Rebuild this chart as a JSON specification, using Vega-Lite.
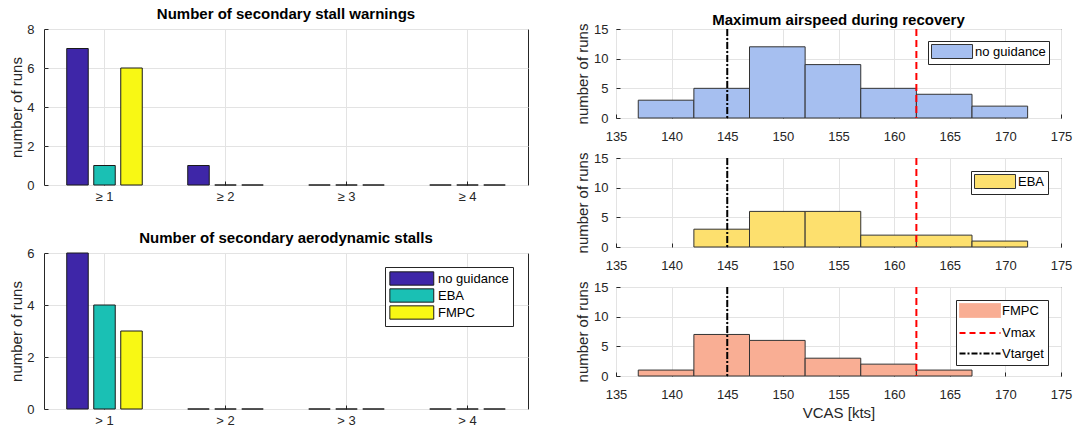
{
  "$schema": "https://vega.github.io/schema/vega-lite/v6.json",
  "background": "white",
  "padding": {"left": 9, "top": 6, "right": 4, "bottom": 2},
  "datasets": {
    "warnings": [
      {"level": "≥ 1", "method": "no guidance", "runs": 7},
      {"level": "≥ 1", "method": "EBA", "runs": 1},
      {"level": "≥ 1", "method": "FMPC", "runs": 6},
      {"level": "≥ 2", "method": "no guidance", "runs": 1},
      {"level": "≥ 2", "method": "EBA", "runs": 0},
      {"level": "≥ 2", "method": "FMPC", "runs": 0},
      {"level": "≥ 3", "method": "no guidance", "runs": 0},
      {"level": "≥ 3", "method": "EBA", "runs": 0},
      {"level": "≥ 3", "method": "FMPC", "runs": 0},
      {"level": "≥ 4", "method": "no guidance", "runs": 0},
      {"level": "≥ 4", "method": "EBA", "runs": 0},
      {"level": "≥ 4", "method": "FMPC", "runs": 0}
    ],
    "stalls": [
      {"level": "> 1", "method": "no guidance", "runs": 6},
      {"level": "> 1", "method": "EBA", "runs": 4},
      {"level": "> 1", "method": "FMPC", "runs": 3},
      {"level": "> 2", "method": "no guidance", "runs": 0},
      {"level": "> 2", "method": "EBA", "runs": 0},
      {"level": "> 2", "method": "FMPC", "runs": 0},
      {"level": "> 3", "method": "no guidance", "runs": 0},
      {"level": "> 3", "method": "EBA", "runs": 0},
      {"level": "> 3", "method": "FMPC", "runs": 0},
      {"level": "> 4", "method": "no guidance", "runs": 0},
      {"level": "> 4", "method": "EBA", "runs": 0},
      {"level": "> 4", "method": "FMPC", "runs": 0}
    ],
    "airspeed": [
      {"method": "no guidance", "lo": 137, "hi": 142, "count": 3},
      {"method": "no guidance", "lo": 142, "hi": 147, "count": 5},
      {"method": "no guidance", "lo": 147, "hi": 152, "count": 12},
      {"method": "no guidance", "lo": 152, "hi": 157, "count": 9},
      {"method": "no guidance", "lo": 157, "hi": 162, "count": 5},
      {"method": "no guidance", "lo": 162, "hi": 167, "count": 4},
      {"method": "no guidance", "lo": 167, "hi": 172, "count": 2},
      {"method": "EBA", "lo": 142, "hi": 147, "count": 3},
      {"method": "EBA", "lo": 147, "hi": 152, "count": 6},
      {"method": "EBA", "lo": 152, "hi": 157, "count": 6},
      {"method": "EBA", "lo": 157, "hi": 162, "count": 2},
      {"method": "EBA", "lo": 162, "hi": 167, "count": 2},
      {"method": "EBA", "lo": 167, "hi": 172, "count": 1},
      {"method": "FMPC", "lo": 137, "hi": 142, "count": 1},
      {"method": "FMPC", "lo": 142, "hi": 147, "count": 7},
      {"method": "FMPC", "lo": 147, "hi": 152, "count": 6},
      {"method": "FMPC", "lo": 152, "hi": 157, "count": 3},
      {"method": "FMPC", "lo": 157, "hi": 162, "count": 2},
      {"method": "FMPC", "lo": 162, "hi": 167, "count": 1}
    ],
    "limits": [
      {"line": "Vmax", "v": 162},
      {"line": "Vtarget", "v": 145}
    ]
  },
  "hconcat": [
    {
      "spacing": 26,
      "resolve": {"scale": {"color": "independent", "x": "independent", "y": "independent"}, "legend": {"color": "independent"}, "axis": {"x": "independent", "y": "independent"}},
      "vconcat": [
        {
          "width": 484, "height": 156,
          "title": {"text": "Number of secondary stall warnings"},
          "data": {"name": "warnings"},
          "mark": {"type": "bar", "stroke": "#1a1a1a", "strokeWidth": 1},
          "encoding": {
            "x": {"field": "level", "type": "nominal", "sort": null, "scale": {"paddingInner": 0, "paddingOuter": 0},
                  "axis": {"title": null, "labelAngle": 0, "grid": true, "bandPosition": 0.5, "labelPadding": 9}},
            "xOffset": {"field": "method", "type": "nominal", "sort": ["no guidance", "EBA", "FMPC"], "scale": {"paddingInner": 0.204, "paddingOuter": 0.842}},
            "y": {"field": "runs", "type": "quantitative", "scale": {"domain": [0, 8], "nice": false},
                  "axis": {"values": [0, 2, 4, 6, 8], "title": "number of runs", "labelPadding": 14, "titlePadding": 2}},
            "color": {"field": "method", "type": "nominal", "scale": {"domain": ["no guidance", "EBA", "FMPC"], "range": ["#3e26a8", "#1ac0b4", "#f8f814"]}, "legend": null}
          }
        },
        {
          "width": 484, "height": 156,
          "title": {"text": "Number of secondary aerodynamic stalls"},
          "data": {"name": "stalls"},
          "mark": {"type": "bar", "stroke": "#1a1a1a", "strokeWidth": 1},
          "encoding": {
            "x": {"field": "level", "type": "nominal", "sort": null, "scale": {"paddingInner": 0, "paddingOuter": 0},
                  "axis": {"title": null, "labelAngle": 0, "grid": true, "bandPosition": 0.5, "labelPadding": 9}},
            "xOffset": {"field": "method", "type": "nominal", "sort": ["no guidance", "EBA", "FMPC"], "scale": {"paddingInner": 0.204, "paddingOuter": 0.842}},
            "y": {"field": "runs", "type": "quantitative", "scale": {"domain": [0, 6], "nice": false},
                  "axis": {"values": [0, 2, 4, 6], "title": "number of runs", "labelPadding": 14, "titlePadding": 2}},
            "color": {"field": "method", "type": "nominal", "scale": {"domain": ["no guidance", "EBA", "FMPC"], "range": ["#3e26a8", "#1ac0b4", "#f8f814"]},
                      "legend": {"title": null, "orient": "none", "legendX": 341, "legendY": 14, "padding": 4, "rowPadding": -2.5,
                                 "symbolType": "M-1,-1H5.6V1H-1Z", "symbolSize": 177, "labelOffset": 34,
                                 "symbolStrokeColor": "#1a1a1a", "symbolStrokeWidth": 1, "symbolOpacity": 1}}
          }
        }
      ]
    },
    {
      "spacing": 7,
      "resolve": {"scale": {"color": "independent", "stroke": "independent", "x": "independent", "y": "independent"}, "legend": {"color": "independent"}, "axis": {"x": "independent", "y": "independent"}},
      "vconcat": [
        {
          "width": 445, "height": 89,
          "title": {"text": ["", "Maximum airspeed during recovery"], "lineHeight": 6, "offset": -5},
          "layer": [
            {
              "data": {"name": "airspeed"},
              "transform": [{"filter": "datum.method === 'no guidance'"}],
              "mark": {"type": "rect", "stroke": "#333333", "strokeWidth": 1},
              "encoding": {
                "x": {"field": "lo", "type": "quantitative", "scale": {"domain": [135, 175], "nice": false, "zero": false},
                      "axis": {"values": [135, 140, 145, 150, 155, 160, 165, 170, 175], "title": null, "labelPadding": 16}},
                "x2": {"field": "hi"},
                "y": {"field": "count", "type": "quantitative", "scale": {"domain": [0, 15], "nice": false},
                      "axis": {"values": [0, 5, 10, 15], "title": "number of runs", "labelPadding": 12, "titlePadding": 3}},
                "y2": {"datum": 0},
                "color": {"field": "method", "type": "nominal", "scale": {"domain": ["no guidance"], "range": ["#a6bff0"]},
                          "legend": {"title": null, "orient": "top-right", "offset": 12, "padding": 3, "symbolType": "M-1,-1H4.86V1H-1Z", "symbolSize": 196, "labelOffset": 29,
                                     "symbolStrokeColor": "#333333", "symbolStrokeWidth": 1, "symbolOpacity": 1}}
              }
            },
            {
              "data": {"name": "limits"},
              "mark": {"type": "rule", "strokeWidth": 2},
              "encoding": {
                "x": {"field": "v", "type": "quantitative"},
                "stroke": {"field": "line", "type": "nominal", "scale": {"domain": ["Vmax", "Vtarget"], "range": ["#ff0000", "#000000"]}, "legend": null},
                "strokeDash": {"field": "line", "type": "nominal", "scale": {"domain": ["Vmax", "Vtarget"], "range": [[7, 4], [7, 2, 2, 2]]}, "legend": null}
              }
            }
          ]
        },
        {
          "width": 445, "height": 89,
          "layer": [
            {
              "data": {"name": "airspeed"},
              "transform": [{"filter": "datum.method === 'EBA'"}],
              "mark": {"type": "rect", "stroke": "#333333", "strokeWidth": 1},
              "encoding": {
                "x": {"field": "lo", "type": "quantitative", "scale": {"domain": [135, 175], "nice": false, "zero": false},
                      "axis": {"values": [135, 140, 145, 150, 155, 160, 165, 170, 175], "title": null, "labelPadding": 16}},
                "x2": {"field": "hi"},
                "y": {"field": "count", "type": "quantitative", "scale": {"domain": [0, 15], "nice": false},
                      "axis": {"values": [0, 5, 10, 15], "title": "number of runs", "labelPadding": 12, "titlePadding": 3}},
                "y2": {"datum": 0},
                "color": {"field": "method", "type": "nominal", "scale": {"domain": ["EBA"], "range": ["#fde06e"]},
                          "legend": {"title": null, "orient": "top-right", "offset": 13, "padding": 3, "symbolType": "M-1,-1H4.86V1H-1Z", "symbolSize": 196, "labelOffset": 29,
                                     "symbolStrokeColor": "#333333", "symbolStrokeWidth": 1, "symbolOpacity": 1}}
              }
            },
            {
              "data": {"name": "limits"},
              "mark": {"type": "rule", "strokeWidth": 2},
              "encoding": {
                "x": {"field": "v", "type": "quantitative"},
                "stroke": {"field": "line", "type": "nominal", "scale": {"domain": ["Vmax", "Vtarget"], "range": ["#ff0000", "#000000"]}, "legend": null},
                "strokeDash": {"field": "line", "type": "nominal", "scale": {"domain": ["Vmax", "Vtarget"], "range": [[7, 4], [7, 2, 2, 2]]}, "legend": null}
              }
            }
          ]
        },
        {
          "width": 445, "height": 89,
          "layer": [
            {
              "data": {"name": "airspeed"},
              "transform": [{"filter": "datum.method === 'FMPC'"}],
              "mark": {"type": "rect", "stroke": "#333333", "strokeWidth": 1},
              "encoding": {
                "x": {"field": "lo", "type": "quantitative", "scale": {"domain": [135, 175], "nice": false, "zero": false},
                      "axis": {"values": [135, 140, 145, 150, 155, 160, 165, 170, 175], "title": "VCAS [kts]", "labelPadding": 16, "titlePadding": 4}},
                "x2": {"field": "hi"},
                "y": {"field": "count", "type": "quantitative", "scale": {"domain": [0, 15], "nice": false},
                      "axis": {"values": [0, 5, 10, 15], "title": "number of runs", "labelPadding": 12, "titlePadding": 3}},
                "y2": {"datum": 0},
                "color": {"field": "method", "type": "nominal", "scale": {"domain": ["FMPC", "Vmax", "Vtarget"], "range": ["#f9ae94", "#ff0000", "#000000"]}}
              }
            },
            {
              "data": {"name": "limits"},
              "mark": {"type": "rule", "strokeWidth": 2},
              "encoding": {
                "x": {"field": "v", "type": "quantitative"},
                "color": {"field": "line", "type": "nominal", "scale": {"domain": ["FMPC", "Vmax", "Vtarget"], "range": ["#f9ae94", "#ff0000", "#000000"]},
                          "legend": {"title": null, "orient": "top-right", "offset": 13, "padding": 4, "rowPadding": 6.5, "symbolType": "M-1,-1H4.86V1H-1Z", "symbolSize": 196, "labelOffset": 29,
                                     "symbolOpacity": 1,
                                     "encode": {"symbols": {"update": {
                                       "shape": {"signal": "datum.value === 'FMPC' ? 'M-1,-1H4.86V1H-1Z' : 'M-1,0H4.86'"},
                                       "fill": {"signal": "datum.value === 'FMPC' ? '#f9ae94' : 'transparent'"},
                                       "stroke": {"signal": "datum.value === 'FMPC' ? '#333333' : (datum.value === 'Vmax' ? '#ff0000' : '#000000')"},
                                       "strokeDash": {"signal": "datum.value === 'Vmax' ? [6, 4] : (datum.value === 'Vtarget' ? [6, 2, 2, 2] : [1, 0])"},
                                       "strokeWidth": {"signal": "datum.value === 'FMPC' ? 1 : 2"}
                                     }}}}},
                "strokeDash": {"field": "line", "type": "nominal", "scale": {"domain": ["Vmax", "Vtarget"], "range": [[7, 4], [7, 2, 2, 2]]}, "legend": null}
              }
            }
          ]
        }
      ]
    }
  ],
  "spacing": 46,
  "resolve": {"scale": {"color": "independent", "stroke": "independent", "x": "independent", "y": "independent"}, "legend": {"color": "independent"}, "axis": {"x": "independent", "y": "independent"}},
  "config": {
    "font": "Liberation Sans",
    "view": {"stroke": "#262626", "strokeWidth": 1},
    "axis": {
      "domain": false, "ticks": true, "tickSize": -4, "tickColor": "#262626", "tickWidth": 1,
      "labelFlush": false,
      "grid": true, "gridColor": "#e3e3e3", "gridWidth": 1,
      "labelFont": "Liberation Sans", "labelFontSize": 13, "labelColor": "#262626",
      "titleFont": "Liberation Sans", "titleFontSize": 15, "titleFontWeight": "normal", "titleColor": "#262626"
    },
    "title": {"font": "Liberation Sans", "fontSize": 15, "fontWeight": "bold", "color": "#000000", "offset": 1},
    "legend": {
      "labelFont": "Liberation Sans", "labelFontSize": 13, "labelColor": "#000000",
      "fillColor": "#ffffff", "strokeColor": "#262626"
    }
  }
}
